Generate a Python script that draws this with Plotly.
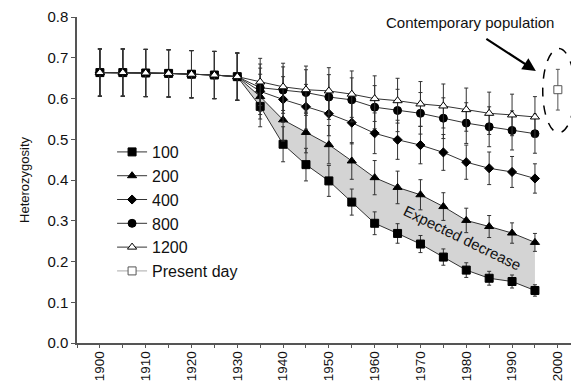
import plotly.graph_objects as go

years = list(range(1900, 2000, 5))
early = [0.664, 0.664, 0.663, 0.662, 0.660, 0.658, 0.654]
early_err = [0.058, 0.058, 0.058, 0.058, 0.058, 0.058, 0.058]

s100 = early + [0.581, 0.488, 0.438, 0.398, 0.346, 0.294, 0.269, 0.243, 0.211, 0.179, 0.159, 0.151, 0.129]
s200 = early + [0.605, 0.548, 0.517, 0.487, 0.447, 0.406, 0.382, 0.364, 0.335, 0.301, 0.286, 0.270, 0.247]
s400 = early + [0.618, 0.598, 0.580, 0.563, 0.541, 0.515, 0.499, 0.486, 0.468, 0.444, 0.429, 0.420, 0.404]
s800 = early + [0.627, 0.621, 0.615, 0.604, 0.597, 0.579, 0.571, 0.564, 0.552, 0.540, 0.531, 0.522, 0.514]
s1200 = early + [0.641, 0.629, 0.622, 0.619, 0.611, 0.600, 0.595, 0.587, 0.582, 0.573, 0.564, 0.560, 0.555]

e100 = early_err + [0.050, 0.043, 0.040, 0.038, 0.032, 0.028, 0.024, 0.021, 0.020, 0.018, 0.017, 0.016, 0.014]
e200 = early_err + [0.055, 0.052, 0.050, 0.047, 0.045, 0.042, 0.040, 0.037, 0.034, 0.030, 0.027, 0.025, 0.022]
e400 = early_err + [0.057, 0.056, 0.055, 0.054, 0.052, 0.050, 0.048, 0.046, 0.044, 0.042, 0.040, 0.038, 0.036]
e800 = early_err + [0.058, 0.057, 0.056, 0.055, 0.054, 0.053, 0.052, 0.051, 0.050, 0.050, 0.049, 0.048, 0.048]
e1200 = early_err + [0.058, 0.058, 0.058, 0.057, 0.057, 0.056, 0.055, 0.055, 0.054, 0.053, 0.052, 0.051, 0.050]

present_year = [2000]
present_val = [0.622]
present_err = [0.050]

x_ticks = list(range(1900, 2001, 10))
y_ticks = [0.0, 0.1, 0.2, 0.3, 0.4, 0.5, 0.6, 0.7, 0.8]

FONT = "Arial, 'Liberation Sans', sans-serif"
LINE = "#333333"

fig = go.Figure()

# shaded expected decrease band
fig.add_trace(go.Scatter(
    x=years + years[::-1], y=s200 + s100[::-1], fill="toself",
    fillcolor="#d4d4d4", line=dict(width=0), mode="lines",
    showlegend=False, hoverinfo="skip"))

series = [
    ("100", s100, e100, "square", "black", 8),
    ("200", s200, e200, "triangle-up", "black", 8),
    ("400", s400, e400, "diamond", "black", 7),
    ("800", s800, e800, "circle", "black", 8),
    ("1200", s1200, e1200, "triangle-up", "white", 8),
]
for i, (name, ys, es, sym, fillc, sz) in enumerate(series):
    fig.add_trace(go.Scatter(
        x=years, y=ys, name=name, mode="lines+markers",
        legendgroup=name,
        line=dict(color=LINE, width=1),
        marker=dict(symbol=sym, color=fillc, size=sz, line=dict(color="black", width=1)),
        error_y=dict(type="data", array=es, color=LINE, thickness=1, width=2),
    ))

fig.add_trace(go.Scatter(
    x=present_year, y=present_val, name="Present day", mode="lines+markers",
    legendgroup="present",
    line=dict(color="#aaaaaa", width=1),
    marker=dict(symbol="square", color="white", size=8, line=dict(color="#555555", width=1)),
    error_y=dict(type="data", array=present_err, color="#555555", thickness=1, width=2),
))

fig.add_shape(type="circle", xref="x", yref="y", x0=1996.7, x1=2003.7, y0=0.516, y1=0.723,
              line=dict(color="black", width=1.5, dash="dash"))

fig.add_annotation(x=1995.2, y=0.668, ax=-51, ay=-33, axref="pixel", ayref="pixel",
                   text="", showarrow=True, arrowhead=2, arrowsize=1.2, arrowwidth=2.2,
                   arrowcolor="black")
fig.add_annotation(x=1980.8, y=0.786, text="Contemporary population", showarrow=False,
                   font=dict(family=FONT, size=15, color="#111111"))
fig.add_annotation(x=1979, y=0.258, text="Expected decrease", showarrow=False,
                   textangle=26, font=dict(family=FONT, size=15, color="#111111"))

# page body has an 8px default margin; figure sized to fill the rest
fig.update_layout(
    width=571, height=375,
    margin=dict(l=69, r=1, t=9, b=40),
    paper_bgcolor="white", plot_bgcolor="white",
    font=dict(family=FONT, size=15, color="#111111"),
    showlegend=True,
    legend=dict(x=0.07, y=0.638, xanchor="left", yanchor="top",
                bgcolor="rgba(0,0,0,0)", font=dict(size=16),
                traceorder="grouped", tracegroupgap=0),
    xaxis=dict(range=[1895, 2004.4], tickvals=x_ticks, ticktext=[str(v) for v in x_ticks],
               tickangle=-90, tickfont=dict(size=13.5), ticklabelstandoff=-2,
               showline=True, linecolor="#555555", linewidth=1.5, automargin=False,
               ticks="outside", ticklen=3, tickcolor="#555555", showgrid=False, zeroline=False,
               minor=dict(dtick=5, tick0=1900, ticks="outside", ticklen=3, tickcolor="#555555")),
    yaxis=dict(range=[0, 0.8005], tickvals=y_ticks, ticktext=[f"{v:.1f}" for v in y_ticks],
               showline=True, linecolor="#555555", linewidth=1.5, automargin=False,
               ticks="outside", ticklen=4, tickcolor="#555555", showgrid=False, zeroline=False,
               title=dict(text="Heterozygosity", font=dict(size=13), standoff=15)),
)

fig.write_html("out.html")
